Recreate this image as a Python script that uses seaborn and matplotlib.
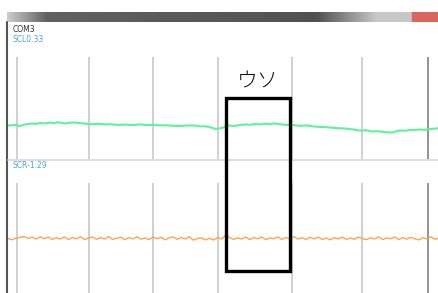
import numpy as np
import pandas as pd
import matplotlib.pyplot as plt
import seaborn as sns
from matplotlib.patches import Rectangle

# window / label texts
port_name = "COM3"
top_label = "SCL0.33"
bottom_label = "SCR-1.29"
marker_text = "ウソ"

# sample positions of the vertical grid lines (x in samples)
grid_ticks = [9, 81, 145, 210, 284, 354, 420]

# top trace (SCL), level above panel bottom
scl_x = [0, 7, 12, 17, 24, 28, 32, 37, 42, 46, 50, 57, 62, 67, 73, 80, 86, 92, 97, 102,
         110, 117, 124, 132, 139, 145, 151, 157, 165, 172, 180, 187, 193, 197, 203, 208,
         214, 220, 226, 232, 238, 242, 247, 252, 257, 262, 266, 270, 277, 284, 292, 300,
         307, 315, 322, 330, 337, 345, 352, 358, 364, 370, 377, 384, 388, 392, 397, 402,
         407, 412, 417, 422, 427, 431]
scl_y = [33.5, 34.0, 33.0, 34.5, 35.5, 35.0, 36.0, 35.5, 36.5, 35.8, 36.8, 35.5, 36.2,
         36.5, 35.8, 35.0, 34.8, 35.2, 34.5, 34.8, 34.0, 34.5, 34.0, 34.6, 34.0, 34.2,
         33.6, 33.8, 33.2, 33.0, 33.6, 33.4, 32.6, 32.8, 31.5, 30.0, 31.0, 33.5, 33.0,
         34.0, 34.6, 34.2, 35.0, 34.6, 35.3, 34.8, 35.6, 35.0, 34.2, 34.0, 33.2, 33.5,
         32.4, 32.0, 31.5, 30.8, 30.5, 29.6, 28.4, 28.8, 27.5, 27.8, 26.8, 26.5, 27.6,
         28.6, 28.2, 29.2, 29.0, 29.5, 29.2, 30.0, 30.4, 31.0]

# bottom trace (SCR), level above panel bottom
scr_y = [54.5, 53.2, 54.8, 55.6, 56.4, 54.6, 55.8, 53.9, 56.2, 54.3, 55.9, 53.6, 55.2,
         54.0, 56.1, 53.5, 55.4, 54.2, 56.3, 53.4, 55.0, 56.0, 53.7, 55.3, 54.0, 56.4,
         53.6, 54.8, 55.7, 53.3, 55.5, 54.1, 56.2, 53.8, 55.0, 53.4, 56.0, 54.3, 55.6,
         53.2, 55.1, 56.1, 53.7, 55.4, 54.0, 56.3, 52.9, 54.4, 55.2, 53.1, 54.7, 53.0,
         55.3, 54.1, 57.8, 55.6, 53.6, 55.2, 54.0, 56.0, 53.5, 55.4, 54.2, 56.2, 53.3,
         55.0, 54.4, 56.1, 53.6, 55.5, 53.9, 56.4, 54.0, 55.3, 53.4, 55.8, 54.2, 56.0,
         53.5, 54.9, 53.2, 55.4, 54.1, 56.0, 53.6, 55.1, 53.8, 55.9, 54.4, 53.3, 55.2,
         54.0, 56.2, 53.5, 55.0, 54.3, 56.1, 53.4, 55.5, 53.9, 55.7, 54.2, 53.1, 55.4,
         54.0, 56.3, 53.7, 55.1]

W, H = 439, 293
sns.set_style("white")
plt.rcParams['font.family'] = ['DejaVu Sans']

fig = plt.figure(figsize=(W / 100, H / 100), dpi=100)


def px_rect(x0, y0, x1, y1):
    # pixel box (top-left origin) -> figure fraction rect
    return [x0 / W, 1 - y1 / H, (x1 - x0) / W, (y1 - y0) / H]


# title bar with gradient
bar = fig.add_axes(px_rect(7, 12, 439, 22))
grad = np.concatenate([np.linspace(0.8, 0.38, 40), np.linspace(0.38, 0.32, 270),
                       np.linspace(0.32, 0.78, 60), np.full(62, 0.78)])
bar.imshow(grad[None, :], aspect='auto', cmap='gray', vmin=0, vmax=1)
bar.add_patch(Rectangle((405, -0.5), 27, 1, color="#d9675e"))
bar.set_axis_off()

# left window border
fig.add_artist(plt.Line2D([7.5 / W, 7.5 / W], [0, 1 - 22 / H], color="#555555", lw=1.5))
# separator between panels
fig.add_artist(plt.Line2D([8 / W, 1], [1 - 160 / H, 1 - 160 / H], color="#d8d8d8", lw=1.2))

fig.text(13 / W, 1 - 30 / H, port_name, fontsize=5.5, color="#333333", va='center')
fig.text(13 / W, 1 - 40 / H, top_label, fontsize=5.5, color="#4da3d9", va='center')
fig.text(13 / W, 1 - 166 / H, bottom_label, fontsize=5.5, color="#4da3d9", va='center')

top = pd.DataFrame({"x": scl_x, "y": scl_y})
bottom = pd.DataFrame({"x": np.linspace(0, 431, len(scr_y)), "y": scr_y})

ax1 = fig.add_axes(px_rect(8, 57, 439, 159))
ax2 = fig.add_axes(px_rect(8, 183, 439, 293))

sns.lineplot(data=top, x="x", y="y", ax=ax1, color="#5ff29a", lw=1.5)
sns.lineplot(data=bottom, x="x", y="y", ax=ax2, color="#ff9a3c", lw=1.0, alpha=0.9)

for ax, h in [(ax1, 102), (ax2, 110)]:
    ax.set_xlim(0, 431)
    ax.set_ylim(0, h)
    ax.set_xticks(grid_ticks)
    ax.set_yticks([])
    ax.grid(axis='x', color="#cccccc", lw=1.3)
    ax.tick_params(length=0, labelbottom=False)
    ax.set_xlabel("")
    ax.set_ylabel("")
    ax.set_facecolor("none")
    for s in ax.spines.values():
        s.set_visible(False)
    ax.get_xgridlines()[-1].set_color("#8a8a8a")

# annotation box and label
fig.add_artist(Rectangle((226 / W, 1 - 271 / H), 64 / W, 173 / H, fill=False,
                         ec="black", lw=2.4, transform=fig.transFigure, zorder=10))
fig.text(258 / W, 1 - 82 / H, marker_text, fontsize=15, ha='center', va='center',
         family=['Noto Sans CJK JP'], fontweight='light', color="#111111")

fig.savefig("out.png", dpi=100)
